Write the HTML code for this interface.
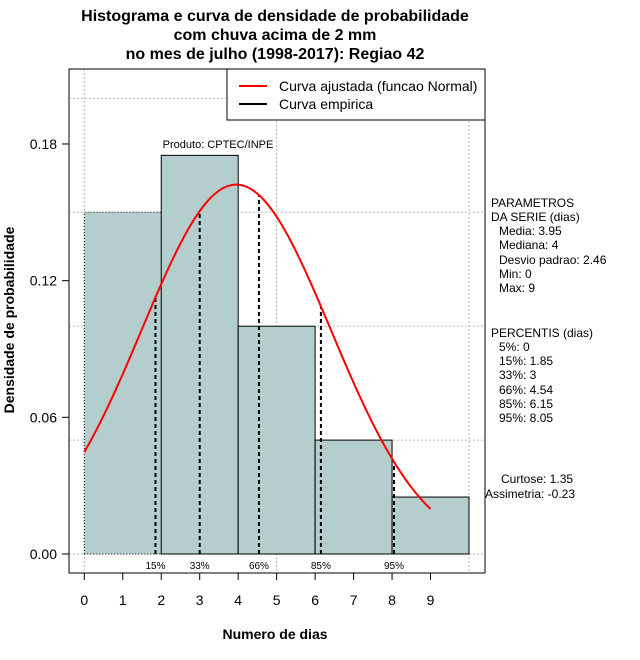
<!DOCTYPE html>
<html><head><meta charset="utf-8"><style>
body{margin:0;background:#fff}
svg{display:block;font-family:"Liberation Sans",sans-serif}
</style></head><body>
<svg id="c" width="640" height="660" xmlns="http://www.w3.org/2000/svg">
<g id="grid"></g>
<g id="bars"></g>
<g id="pct"></g>
<path id="curve" fill="none" stroke="#f00" stroke-width="2"/>
<rect x="69" y="69" width="416" height="504" fill="none" stroke="#000"/>
<g id="axes"></g>
<text x="275" y="21" font-size="16" font-weight="bold" text-anchor="middle">Histograma e curva de densidade de probabilidade</text>
<text x="275" y="40" font-size="16" font-weight="bold" text-anchor="middle">com chuva acima de 2 mm</text>
<text x="275" y="59" font-size="16" font-weight="bold" text-anchor="middle">no mes de julho (1998-2017): Regiao 42</text>
<text x="275" y="639" font-size="14" font-weight="bold" text-anchor="middle">Numero de dias</text>
<text transform="translate(14,320) rotate(-90)" font-size="14" font-weight="bold" text-anchor="middle">Densidade de probabilidade</text>
<text x="218" y="148" font-size="11" text-anchor="middle">Produto: CPTEC/INPE</text>
<g>
<rect x="227" y="69" width="258" height="51" fill="#fff" stroke="#000"/>
<line x1="239" y1="86" x2="267" y2="86" stroke="#f00" stroke-width="2"/>
<text x="279" y="91" font-size="14">Curva ajustada (funcao Normal)</text>
<line x1="239" y1="104" x2="267" y2="104" stroke="#000" stroke-width="2"/>
<text x="279" y="109" font-size="14">Curva empirica</text>
</g>
<g font-size="12">
<text x="491" y="207">PARAMETROS</text><text x="491" y="221">DA SERIE (dias)</text>
<text x="499" y="235">Media: 3.95</text><text x="499" y="249">Mediana: 4</text>
<text x="499" y="264">Desvio padrao: 2.46</text><text x="499" y="278">Min: 0</text><text x="499" y="292">Max: 9</text>
<text x="491" y="337">PERCENTIS (dias)</text>
<text x="499" y="351">5%: 0</text><text x="499" y="365">15%: 1.85</text><text x="499" y="379">33%: 3</text>
<text x="499" y="394">66%: 4.54</text><text x="499" y="408">85%: 6.15</text><text x="499" y="422">95%: 8.05</text>
<text x="501" y="483">Curtose: 1.35</text><text x="485" y="498">Assimetria: -0.23</text>
</g>
</svg>
<script>
const binEdges=[0,2,4,6,8,10];
const densities=[0.15,0.175,0.1,0.05,0.025];
const yTicks=[0,0.06,0.12,0.18];
const yTickLabels=["0.00","0.06","0.12","0.18"];
const xTicks=[0,1,2,3,4,5,6,7,8,9];
const pctValues=[1.85,3,4.54,6.15,8.05];
const pctLabels=["15%","33%","66%","85%","95%"];
const mean=3.95, sd=2.46, curveMin=0, curveMax=9;
const NS="http://www.w3.org/2000/svg";
const X=v=>84.3+v*38.47, Y=v=>554-v*2278;
function mk(p,t,a){const e=document.createElementNS(NS,t);for(const k in a)e.setAttribute(k,a[k]);p.appendChild(e);return e;}
const dens=x=>Math.exp(-((x-mean)**2)/(2*sd*sd))/(sd*Math.sqrt(2*Math.PI));
const grid=document.getElementById('grid');
[0,0.05,0.1,0.15,0.2].forEach(v=>{const l=mk(grid,'line',{x1:69,x2:485,y1:Y(v),y2:Y(v),stroke:'#bbb','stroke-dasharray':'2,2'});

});
[0,5,10].forEach(v=>{const l=mk(grid,'line',{x1:X(v),x2:X(v),y1:69,y2:573,stroke:'#bbb','stroke-dasharray':'2,2'});

});
const bars=document.getElementById('bars');
densities.forEach((d,i)=>{const x0=X(binEdges[i]),x1=X(binEdges[i+1]);
const r=mk(bars,'rect',{x:x0,y:Y(d),width:x1-x0,height:Y(0)-Y(d),fill:'#b4cdcd',stroke:i===0?'none':'#000'});


if(i===0){mk(bars,'path',{d:`M${x0},${Y(0)}V${Y(d)}H${x1}`,fill:'none',stroke:'#000','stroke-dasharray':'1,2'});}});
mk(bars,'line',{x1:X(0),x2:X(10),y1:Y(0),y2:Y(0),stroke:'#000','stroke-dasharray':'1,2'});
const pct=document.getElementById('pct');
pctValues.forEach((v,i)=>{const l=mk(pct,'line',{x1:X(v),x2:X(v),y1:Y(0),y2:Y(dens(v)),stroke:'#000','stroke-width':2,'stroke-dasharray':'4,3'});


const t=mk(pct,'text',{x:X(v),y:569,'font-size':10,'text-anchor':'middle'});t.textContent=pctLabels[i];

});
let d='';for(let k=0;k<=90;k++){const x=curveMin+(curveMax-curveMin)*k/90;d+=(k?'L':'M')+X(x).toFixed(1)+','+Y(dens(x)).toFixed(1);}
document.getElementById('curve').setAttribute('d',d);
const ax=document.getElementById('axes');
yTicks.forEach((v,i)=>{mk(ax,'line',{x1:62,x2:69,y1:Y(v),y2:Y(v),stroke:'#000'});
const t=mk(ax,'text',{x:57,y:Y(v)+5,'font-size':14,'text-anchor':'end'});t.textContent=yTickLabels[i];

});
xTicks.forEach(v=>{mk(ax,'line',{x1:X(v),x2:X(v),y1:573,y2:580,stroke:'#000'});
const t=mk(ax,'text',{x:X(v),y:605,'font-size':14,'text-anchor':'middle'});t.textContent=v;

});
</script>
</body></html>
